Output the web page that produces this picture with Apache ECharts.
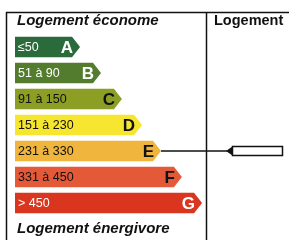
<!DOCTYPE html>
<html>
<head>
<meta charset="utf-8">
<script src="https://cdn.jsdelivr.net/npm/echarts@6/dist/echarts.min.js"></script>
<style>
  html, body { margin: 0; padding: 0; background: #fff; }
  #chart { width: 289px; height: 240px; }
</style>
</head>
<body>
<div id="chart"></div>
<script>
// classes du DPE
var classes = ['A', 'B', 'C', 'D', 'E', 'F', 'G'];
var ranges = ['≤50', '51 à 90', '91 à 150', '151 à 230', '231 à 330', '331 à 450', '> 450'];
// longueur des fleches
var barLength = [3.2, 4.23, 5.26, 6.25, 7.18, 8.21, 9.2];
var barColors = ['#2b6a3a', '#537c2e', '#8c9f24', '#f6e630', '#efb53c', '#e45a39', '#d9351f'];
var textColors = ['#fff', '#fff', '#111', '#111', '#111', '#111', '#fff'];
var current = 'E';

var myChart = echarts.init(document.getElementById('chart'));

var data = classes.map(function (c, i) {
  return [barLength[i], i];
});

var option = {
  animation: false,
  grid: { left: 15, top: 34, width: 203.3, height: 182 },
  xAxis: { type: 'value', min: 0, max: 10, show: false },
  yAxis: { type: 'category', data: classes, inverse: true, show: false },
  graphic: [
    // cadre
    { type: 'line', shape: { x1: 6, y1: 12.5, x2: 289, y2: 12.5 }, style: { stroke: '#111', lineWidth: 1.5 } },
    { type: 'line', shape: { x1: 6.5, y1: 12, x2: 6.5, y2: 240 }, style: { stroke: '#111', lineWidth: 1.5 } },
    { type: 'line', shape: { x1: 206.5, y1: 12, x2: 206.5, y2: 240 }, style: { stroke: '#111', lineWidth: 1.5 } },
    {
      type: 'text', left: 17, top: 13,
      style: { text: 'Logement économe', font: 'italic bold 15px "Liberation Sans", Arial, sans-serif', fill: '#111' }
    },
    {
      type: 'text', left: 17, top: 221,
      style: { text: 'Logement énergivore', font: 'italic bold 15px "Liberation Sans", Arial, sans-serif', fill: '#111' }
    },
    {
      type: 'text', left: 214, top: 13,
      style: { text: 'Logement', font: 'bold 14.5px "Liberation Sans", Arial, sans-serif', fill: '#111' }
    }
  ],
  series: [{
    type: 'custom',
    data: data,
    encode: { x: 0, y: 1 },
    renderItem: function (params, api) {
      var idx = api.value(1);
      var start = api.coord([0, idx]);
      var end = api.coord([api.value(0), idx]);
      var h = api.size([0, 1])[1] * 0.78;
      var x0 = start[0], yc = end[1], y0 = yc - h / 2, y1 = yc + h / 2;
      var tip = end[0], d = 8;
      var children = [
        {
          type: 'polygon',
          shape: { points: [[x0, y0], [tip - d, y0], [tip, yc], [tip - d, y1], [x0, y1]] },
          style: { fill: barColors[idx] }
        },
        {
          type: 'text',
          style: {
            text: ranges[idx], x: x0 + 3, y: yc + 0.5,
            align: 'left', verticalAlign: 'middle',
            font: '12.5px "Liberation Sans", Arial, sans-serif', fill: textColors[idx]
          }
        },
        {
          type: 'text',
          style: {
            text: classes[idx], x: tip - 7, y: yc + 1,
            align: 'right', verticalAlign: 'middle',
            font: 'bold 17px "Liberation Sans", Arial, sans-serif', fill: textColors[idx]
          }
        }
      ];
      if (classes[idx] === current) {
        children.push(
          { type: 'line', shape: { x1: tip, y1: yc, x2: 227, y2: yc }, style: { stroke: '#111', lineWidth: 1.3 } },
          { type: 'polygon', shape: { points: [[226, yc], [232.5, yc - 4.5], [232.5, yc + 4.5]] }, style: { fill: '#111' } },
          { type: 'rect', shape: { x: 232.5, y: yc - 4.5, width: 50, height: 9 }, style: { fill: '#fff', stroke: '#111', lineWidth: 1.5 } }
        );
      }
      return { type: 'group', children: children };
    }
  }]
};

myChart.setOption(option);
</script>
</body>
</html>
